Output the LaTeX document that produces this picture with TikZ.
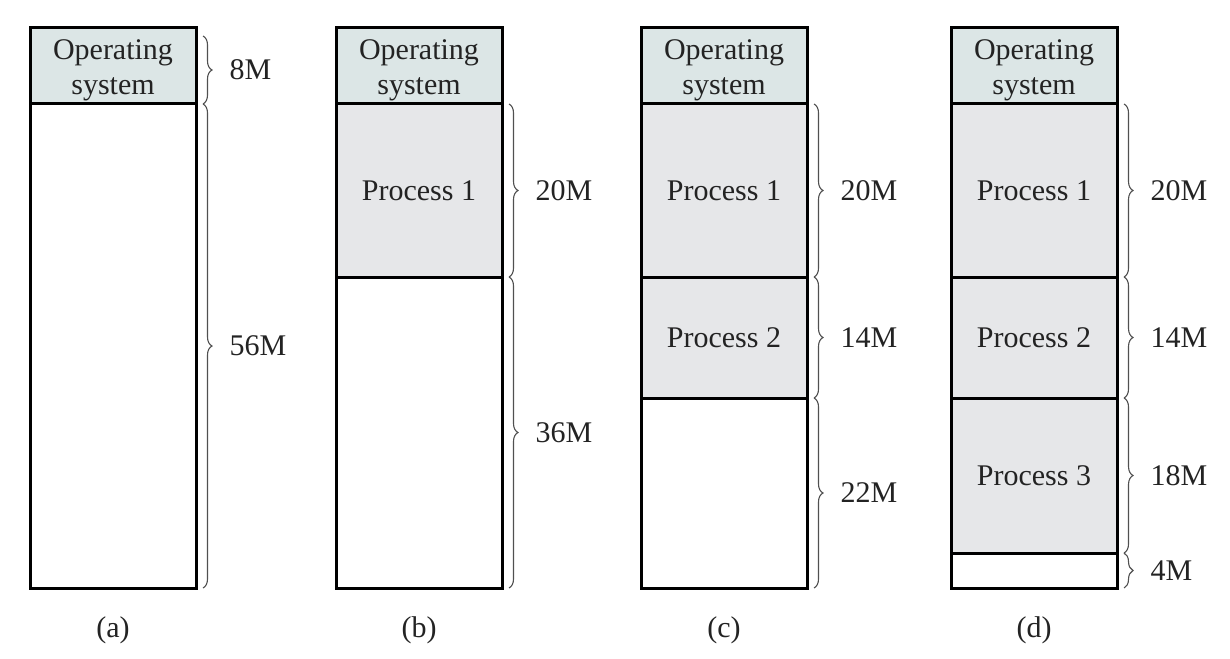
\documentclass[tikz,border=0pt]{standalone}
\usepackage{fontspec}
\setmainfont{Liberation Serif}
\usetikzlibrary{positioning,decorations.pathreplacing}
\definecolor{osfill}{RGB}{220,230,230}
\definecolor{procfill}{RGB}{230,231,233}
\definecolor{bracegray}{RGB}{80,80,80}
\definecolor{ink}{RGB}{35,35,35}

\begin{document}
\begin{tikzpicture}[x=1pt,y=-1pt,
  block/.style={draw=black, line width=3pt, minimum width=166pt, inner sep=0pt, outer sep=0pt,
    align=center, text=ink, font=\fontsize{30}{35}\selectfont, anchor=north west},
  osblock/.style={block, fill=osfill, minimum height=76pt, text height=62.5pt},
  proc/.style={block, fill=procfill},
  hole/.style={block, fill=white},
  brace/.style={decorate, decoration={brace, amplitude=9pt}, draw=bracegray, line width=1.1pt},
  size/.style={font=\fontsize{30}{36}\selectfont, text=ink, inner sep=0pt, midway, right=26pt},
  caption/.style={font=\fontsize{30}{36}\selectfont, text=ink, inner sep=0pt}]
\useasboundingbox (0,0) rectangle (1230,658);

% operating system on top of every memory map
\foreach \col/\x in {a/30,b/336,c/641,d/951}{
  \node[osblock] (os\col) at (\x,28) {Operating\\system};
}

% (a)
\node[hole, minimum height=484pt, below=0pt of osa] (freea) {};
% (b)
\node[proc, minimum height=173pt, below=0pt of osb] (p1b) {Process 1};
\node[hole, minimum height=311pt, below=0pt of p1b] (freeb) {};
% (c)
\node[proc, minimum height=173pt, below=0pt of osc] (p1c) {Process 1};
\node[proc, minimum height=121pt, below=0pt of p1c] (p2c) {Process 2};
\node[hole, minimum height=190pt, below=0pt of p2c] (freec) {};
% (d)
\node[proc, minimum height=173pt, below=0pt of osd] (p1d) {Process 1};
\node[proc, minimum height=121pt, below=0pt of p1d] (p2d) {Process 2};
\node[proc, minimum height=155pt, below=0pt of p2d] (p3d) {Process 3};
\node[hole, minimum height=35pt, below=0pt of p3d] (freed) {};

% sizes
\draw[brace] ([xshift=7pt,yshift=-8pt]osa.north east) -- ([xshift=7pt]osa.south east) node[size] {8M};
\draw[brace] ([xshift=7pt]freea.north east) -- ([xshift=7pt]freea.south east) node[size] {56M};

\draw[brace] ([xshift=7pt]p1b.north east) -- ([xshift=7pt]p1b.south east) node[size] {20M};
\draw[brace] ([xshift=7pt]freeb.north east) -- ([xshift=7pt]freeb.south east) node[size] {36M};

\draw[brace] ([xshift=7pt]p1c.north east) -- ([xshift=7pt]p1c.south east) node[size] {20M};
\draw[brace] ([xshift=7pt]p2c.north east) -- ([xshift=7pt]p2c.south east) node[size] {14M};
\draw[brace] ([xshift=7pt]freec.north east) -- ([xshift=7pt]freec.south east) node[size] {22M};

\draw[brace] ([xshift=7pt]p1d.north east) -- ([xshift=7pt]p1d.south east) node[size] {20M};
\draw[brace] ([xshift=7pt]p2d.north east) -- ([xshift=7pt]p2d.south east) node[size] {14M};
\draw[brace] ([xshift=7pt]p3d.north east) -- ([xshift=7pt]p3d.south east) node[size] {18M};
\draw[brace] ([xshift=7pt]freed.north east) -- ([xshift=7pt]freed.south east) node[size] {4M};

% captions
\node[caption, below=28pt of freea] (capa) {(a)};
\node[caption, below=28pt of freeb] (capb) {(b)};
\node[caption, below=28pt of freec] (capc) {(c)};
\node[caption, below=28pt of freed] (capd) {(d)};
\end{tikzpicture}
\end{document}
